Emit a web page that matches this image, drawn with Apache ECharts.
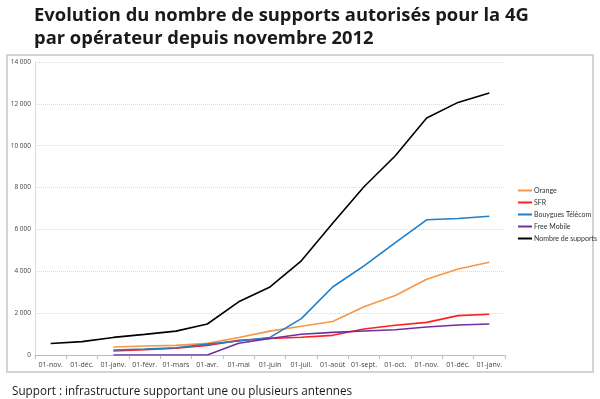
<!DOCTYPE html>
<html>
<head>
<meta charset="utf-8">
<script src="https://cdn.jsdelivr.net/npm/echarts@6/dist/echarts.min.js"></script>
<style>
  html, body { margin:0; padding:0; background:#fff; }
  #chart { width:600px; height:399px; }
</style>
</head>
<body>
<div id="chart"></div>
<script>
var months = ['01-nov.', '01-déc.', '01-janv.', '01-févr.', '01-mars', '01-avr.', '01-mai', '01-juin',
  '01-juil.', '01-août', '01-sept.', '01-oct.', '01-nov.', '01-déc.', '01-janv.'];

// no operator data before january
var orange   = [null, null, 380, 430, 460, 555, 840, 1140, 1370, 1600, 2310, 2840, 3620, 4110, 4430];
var sfr      = [null, null, 190, 250, 320, 460, 700, 790, 850, 940, 1240, 1420, 1560, 1880, 1950];
var bouygues = [null, null, 240, 290, 350, 520, 670, 840, 1740, 3250, 4260, 5370, 6460, 6520, 6630];
var free     = [null, null, 0, 0, 0, 0, 560, 790, 990, 1080, 1150, 1210, 1340, 1430, 1480];
var supports = [550, 640, 840, 985, 1140, 1480, 2540, 3250, 4500, 6300, 8040, 9520, 11320, 12070, 12520];

var yTicks = [0, 2000, 4000, 6000, 8000, 10000, 12000, 14000];

function fmt(v){
  return String(v).replace(/\B(?=(\d{3})+(?!\d))/g, ' ');
}

function line(name, data, color){
  return {
    name: name, type: 'line', data: data, symbol: 'none', connectNulls: false,
    lineStyle: { color: color, width: 1.6 }, itemStyle: { color: color }
  };
}

var chart = echarts.init(document.getElementById('chart'));
chart.setOption({
  animation: false,
  textStyle: { fontFamily: 'Open Sans' },
  title: {
    text: 'Evolution du nombre de supports autorisés pour la 4G\npar opérateur depuis novembre 2012',
    left: 29, top: -1,
    textStyle: { fontFamily: 'Open Sans', fontWeight: 'bold', fontSize: 18.4, color: '#1a1a1a', lineHeight: 23 }
  },
  graphic: [
    { type: 'rect', shape: { x: 7, y: 55, width: 586, height: 317 }, z: -1,
      style: { fill: 'none', stroke: '#d4d4d4', lineWidth: 2 } },
    { type: 'text', left: 12, top: 386,
      style: { text: 'Support : infrastructure supportant une ou plusieurs antennes',
        font: '11.7px "Open Sans"', fill: '#1a1a1a' } }
  ],
  legend: {
    orient: 'vertical', left: 513, top: 182,
    icon: 'rect', itemWidth: 14, itemHeight: 2, itemGap: 5,
    textStyle: { fontFamily: 'Lato', fontSize: 7, color: '#333', padding: [0, 0, 0, -3] },
    data: ['Orange', 'SFR', 'Bouygues Télécom', 'Free Mobile', 'Nombre de supports']
  },
  grid: { left: 35, right: 95, top: 62, bottom: 44 },
  xAxis: {
    type: 'category', data: months, boundaryGap: true,
    axisLine: { lineStyle: { color: '#bfbfbf' } },
    axisTick: { show: true, lineStyle: { color: '#bfbfbf' }, length: 4 },
    axisLabel: { fontSize: 7, color: '#444', margin: 6, interval: 0 }
  },
  yAxis: {
    type: 'value', min: 0, max: 14000, interval: 2000,
    axisLine: { show: true, lineStyle: { color: '#d9d9d9' } },
    axisTick: { show: false },
    splitLine: { lineStyle: { color: '#d9d9d9', type: 'dotted' } },
    axisLabel: { fontSize: 6.5, color: '#444', margin: 4,
      formatter: function(v){ return yTicks.indexOf(v) >= 0 ? fmt(v) : ''; } }
  },
  series: [
    line('Orange', orange, '#f79646'),
    line('SFR', sfr, '#ff1f1f'),
    line('Bouygues Télécom', bouygues, '#1f7fc8'),
    line('Free Mobile', free, '#7030a0'),
    line('Nombre de supports', supports, '#000000')
  ]
});
</script>
</body>
</html>
